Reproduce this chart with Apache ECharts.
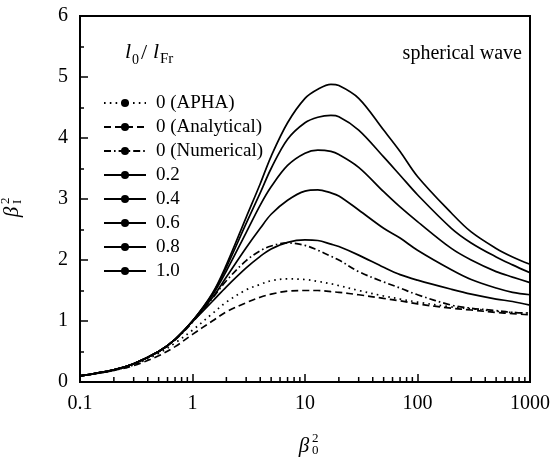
<!DOCTYPE html>
<html>
<head>
<meta charset="utf-8">
<script src="https://cdn.jsdelivr.net/npm/echarts@6/dist/echarts.min.js"></script>
<style>
html,body{margin:0;padding:0;background:#fff;}
#chart{width:553px;height:457px;}
</style>
</head>
<body>
<div id="chart"></div>
<script>
// beta_0^2 sample positions
const xVals = [0.1,0.2,0.3,0.5,0.7,1,1.5,2,3,4,5,7,10,13,17,20,30,50,70,100,200,300,500,700,1000];
// l0/lFr = 0 curves
const aphaVals       = [0.1,0.19,0.28,0.47,0.64,0.85,1.12,1.31,1.51,1.6,1.66,1.69,1.68,1.65,1.61,1.58,1.5,1.41,1.36,1.31,1.23,1.2,1.16,1.14,1.13];
const analyticalVals = [0.1,0.19,0.27,0.43,0.58,0.78,1.0,1.15,1.3,1.39,1.44,1.49,1.5,1.5,1.48,1.47,1.43,1.37,1.33,1.28,1.21,1.18,1.14,1.12,1.1];
const numericalVals  = [0.1,0.2,0.3,0.5,0.69,0.98,1.37,1.66,1.99,2.15,2.23,2.28,2.24,2.16,2.06,2.0,1.81,1.64,1.54,1.43,1.26,1.21,1.17,1.14,1.13];
// l0/lFr > 0 curves
const vals02 = [0.1,0.2,0.3,0.5,0.7,0.99,1.32,1.56,1.87,2.06,2.18,2.29,2.33,2.32,2.26,2.22,2.08,1.88,1.76,1.67,1.52,1.44,1.36,1.32,1.26];
const vals04 = [0.1,0.2,0.3,0.5,0.7,1.0,1.38,1.72,2.2,2.52,2.75,2.98,3.13,3.15,3.1,3.05,2.82,2.52,2.36,2.16,1.84,1.68,1.54,1.47,1.43];
const vals06 = [0.1,0.2,0.3,0.5,0.7,1.0,1.42,1.82,2.45,2.9,3.2,3.55,3.75,3.8,3.78,3.73,3.52,3.12,2.87,2.63,2.19,2.0,1.81,1.72,1.63];
const vals08 = [0.1,0.2,0.3,0.5,0.7,1.0,1.44,1.88,2.6,3.1,3.5,3.98,4.25,4.34,4.37,4.35,4.13,3.69,3.39,3.07,2.52,2.28,2.05,1.92,1.79];
const vals10 = [0.1,0.2,0.3,0.5,0.7,1.0,1.45,1.92,2.7,3.25,3.7,4.25,4.65,4.8,4.88,4.86,4.65,4.13,3.78,3.37,2.77,2.46,2.19,2.05,1.93];

const seriesNames = ['0 (APHA)','0 (Analytical)','0 (Numerical)','0.2','0.4','0.6','0.8','1.0'];
const seriesVals = [aphaVals, analyticalVals, numericalVals, vals02, vals04, vals06, vals08, vals10];
const xTickLabels = {0.1:'0.1',1:'1',10:'10',100:'100',1000:'1000'};
const minorXTicks = [];
[0.1,1,10,100].forEach(d=>{for(let k=2;k<=9;k++) minorXTicks.push(d*k);});

const FONT = '"Liberation Serif", "Times New Roman", serif';
const dashTypes = [[1.6,4.2],[7,4],[7,3,1.6,3],'solid','solid','solid','solid','solid'];

const chart = echarts.init(document.getElementById('chart'), null, {renderer:'canvas'});

const series = seriesNames.map((name,i)=>({
  name: name,
  type: 'line',
  symbol: 'none',
  smooth: 0.35,
  data: xVals.map((x,j)=>[x, seriesVals[i][j]]),
  lineStyle: {color:'#000', width: 1.7, type: dashTypes[i], cap: 'butt'},
  itemStyle: {color:'#000'},
  z: 3
}));

const option = {
  animation: false,
  backgroundColor: '#fff',
  grid: {left: 80, top: 16, right: 21, bottom: 75, show: true, borderColor: '#000', borderWidth: 2, backgroundColor: 'transparent'},
  xAxis: {
    type: 'log', logBase: 10, min: 0.1, max: 1000,
    axisLine: {show: true, lineStyle: {color:'#000', width: 2}},
    axisTick: {show: true, inside: true, length: 8, lineStyle: {color:'#000', width: 1.5}},
    axisLabel: {color:'#000', fontFamily: FONT, fontSize: 20, margin: 12,
      formatter: v => xTickLabels[+v.toPrecision(3)] !== undefined ? xTickLabels[+v.toPrecision(3)] : ''},
    splitLine: {show: false}
  },
  yAxis: {
    type: 'value', min: 0, max: 6, interval: 1,
    axisLine: {show: true, lineStyle: {color:'#000', width: 2}},
    axisTick: {show: true, inside: true, length: 8, lineStyle: {color:'#000', width: 1.5}},
    minorTick: {show: true, splitNumber: 2, length: 4, lineStyle: {color:'#000', width: 1.5}},
    axisLabel: {color:'#000', fontFamily: FONT, fontSize: 20, margin: 12},
    splitLine: {show: false}
  },
  legend: {
    orient: 'vertical', left: 98, top: 88,
    itemWidth: 42, itemHeight: 10, itemGap: 4,
    icon: undefined,
    textStyle: {color:'#000', fontFamily: FONT, fontSize: 19, lineHeight: 20, padding: [0,0,0,5]},
    data: seriesNames
  },
  series: series
};
chart.setOption(option);

// minor ticks on the log axis at 2..9 of each decade, positioned by the chart's scale
const yBottom = chart.convertToPixel({yAxisIndex:0}, 0);
const graphics = minorXTicks.map(v => {
  const px = chart.convertToPixel({xAxisIndex:0}, v);
  return {type:'line', shape:{x1:px, y1:yBottom, x2:px, y2:yBottom-5}, style:{stroke:'#000', lineWidth:1.5}, silent:true};
});

// legend title l0/lFr
graphics.push(
  {type:'text', style:{text:'l', x:125, y:63, font:'italic 22px ' + FONT, fill:'#000', textVerticalAlign:'bottom'}},
  {type:'text', style:{text:'0', x:132, y:67, font:'14px ' + FONT, fill:'#000', textVerticalAlign:'bottom'}},
  {type:'text', style:{text:'/', x:141, y:64, font:'22px ' + FONT, fill:'#000', textVerticalAlign:'bottom'}},
  {type:'text', style:{text:'l', x:153, y:63, font:'italic 22px ' + FONT, fill:'#000', textVerticalAlign:'bottom'}},
  {type:'text', style:{text:'Fr', x:160, y:67, font:'15px ' + FONT, fill:'#000', textVerticalAlign:'bottom'}},
  // spherical wave
  {type:'text', style:{text:'spherical wave', x:522, y:54, font:'20px ' + FONT, fill:'#000', textAlign:'right', textVerticalAlign:'middle'}},
  // x axis name beta_0^2
  {type:'text', style:{text:'β', x:304, y:446, font:'italic 21px ' + FONT, fill:'#000', textAlign:'center', textVerticalAlign:'middle'}},
  {type:'text', style:{text:'2', x:312, y:439, font:'13px ' + FONT, fill:'#000', textAlign:'left', textVerticalAlign:'middle'}},
  {type:'text', style:{text:'0', x:312, y:451, font:'13px ' + FONT, fill:'#000', textAlign:'left', textVerticalAlign:'middle'}},
  // y axis name beta_I^2 (rotated)
  {type:'group', x:12, y:208, rotation: Math.PI/2, children:[
    {type:'text', style:{text:'β', x:-4, y:0, font:'italic 21px ' + FONT, fill:'#000', textAlign:'center', textVerticalAlign:'middle'}},
    {type:'text', style:{text:'2', x:4, y:-6, font:'13px ' + FONT, fill:'#000', textAlign:'left', textVerticalAlign:'middle'}},
    {type:'text', style:{text:'I', x:4, y:6, font:'13px ' + FONT, fill:'#000', textAlign:'left', textVerticalAlign:'middle'}}
  ]}
);
chart.setOption({graphic: graphics});
</script>
</body>
</html>
